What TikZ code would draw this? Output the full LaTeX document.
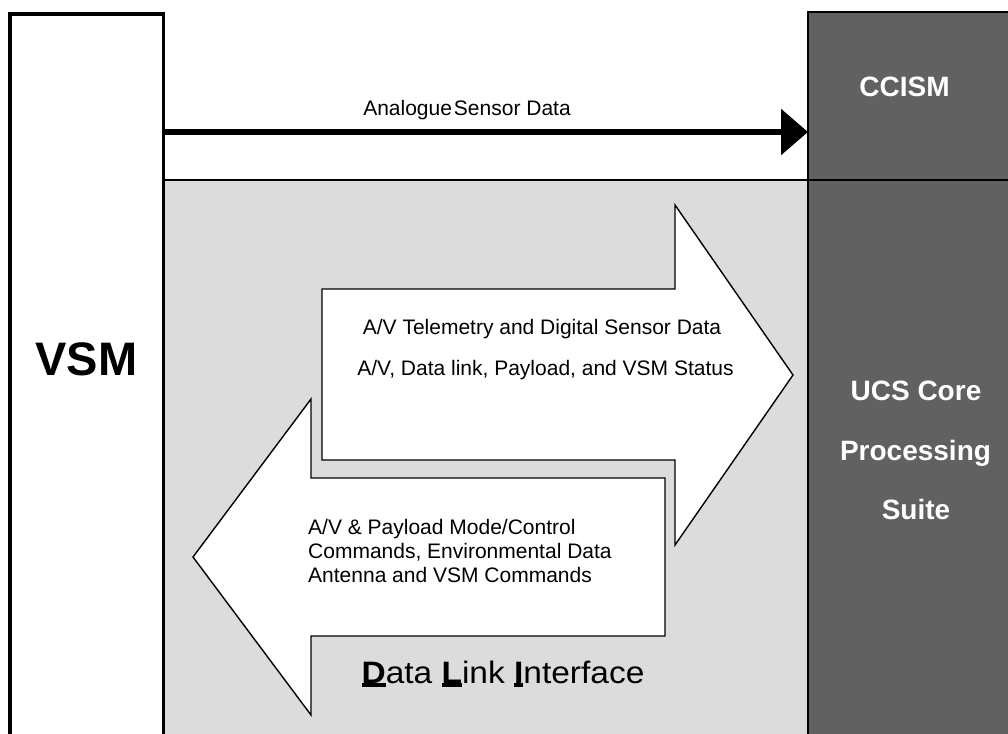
\documentclass[tikz,border=0pt]{standalone}
\usepackage{fontspec}
\setmainfont{Liberation Sans}
\usetikzlibrary{arrows.meta}

\definecolor{panelgrey}{HTML}{DCDCDC}
\definecolor{coregrey}{HTML}{616161}

% bold, thickly underlined initial letter
\newsavebox\keybox
\newcommand\keyletter[1]{\sbox\keybox{\bfseries #1}\rlap{\rule[-3.6pt]{\wd\keybox}{3.2pt}}\usebox\keybox}

\tikzset{
  vsmbox/.style={draw=black, fill=white, line width=3.4pt, outer sep=0pt, inner sep=0pt},
  panel/.style={draw=black, fill=panelgrey, line width=1.4pt, outer sep=0pt, inner sep=0pt},
  corebox/.style={draw=black, fill=coregrey, line width=1.4pt, outer sep=0pt, inner sep=0pt},
  blockarrow/.style={draw=black, fill=white, line width=1.4pt, line join=miter},
  sensorline/.style={line width=6pt, -{Triangle[length=27pt,width=45pt]}},
  lbl/.style={inner sep=0pt, font=\fontsize{21}{24}\selectfont},
  whitebold/.style={inner sep=0pt, text=white, font=\bfseries\fontsize{28}{30}\selectfont},
}

\begin{document}
\begin{tikzpicture}[x=1pt,y=-1pt]
\useasboundingbox (0,0) rectangle (1008,733);

% Data link interface panel and UCS side
\node[panel, minimum width=645pt, minimum height=580pt, anchor=north west] (dli) at (163,180) {};
\node[corebox, minimum width=210pt, minimum height=168pt, anchor=north west] (ccism) at (808,12) {};
\node[corebox, minimum width=210pt, minimum height=580pt, anchor=north west] (ucs) at (808,180) {};

% VSM column
\node[vsmbox, minimum width=153.3pt, minimum height=760pt, anchor=north west] (vsm) at (10,14) {};
\node[anchor=base, inner sep=0pt, font=\bfseries\fontsize{47}{50}\selectfont] (vsmlbl) at (86.5,375.5) {VSM};

% labels on the UCS side
\node[whitebold, anchor=base] (ccismlbl) at (904.5,96.7) {CCISM};
\node[whitebold, anchor=base] (ucsA) at (916,400) {UCS Core};
\node[whitebold, anchor=base] (ucsB) at (915.5,460) {Processing};
\node[whitebold, anchor=base] (ucsC) at (916,519) {Suite};

% analogue sensor path
\coordinate (asrc) at (163.3,132);
\draw[sensorline] (asrc) -- (ccism.west |- asrc);
\node[lbl, anchor=base] (analogue) at (467,116) {{\spaceskip=2pt Analogue }Sensor Data};

% uplink / downlink block arrows
\draw[blockarrow] (322,289) -- (675,289) -- (675,205) -- (793,375) -- (675,545) -- (675,460) -- (322,460) -- cycle;
\draw[blockarrow] (665,478) -- (311,478) -- (311,399) -- (193,557) -- (311,715) -- (311,636) -- (665,636) -- cycle;

\node[lbl, anchor=base] (telem) at (542,334) {A/V Telemetry and Digital Sensor Data};
\node[lbl, anchor=base] (status) at (545.5,375) {A/V, Data link, Payload, and VSM Status};

\node[lbl, anchor=base west] (cmdA) at (308,534) {A/V \& Payload Mode/Control};
\node[lbl, anchor=base west] (cmdB) at (308,558) {Commands, Environmental Data};
\node[lbl, anchor=base west] (cmdC) at (308,582) {Antenna and VSM Commands};

\node[anchor=base, inner sep=0pt, font=\fontsize{31}{34}\selectfont] (dlilbl) at (503,683)
  {\scalebox{1.08}[1]{\keyletter{D}ata \keyletter{L}ink \keyletter{I}nterface}};
\end{tikzpicture}
\end{document}
